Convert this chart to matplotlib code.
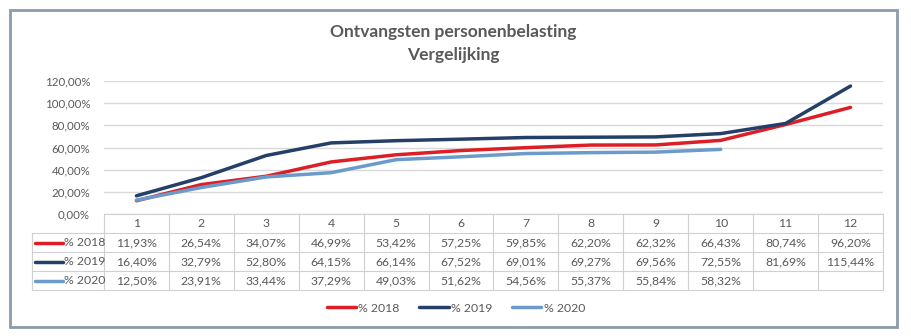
import matplotlib.pyplot as plt
from matplotlib.patches import Rectangle
from matplotlib.lines import Line2D
from matplotlib.transforms import blended_transform_factory

plt.rcParams['font.family'] = ['Lato', 'DejaVu Sans']

months = [1, 2, 3, 4, 5, 6, 7, 8, 9, 10, 11, 12]
series_names = ['% 2018', '% 2019', '% 2020']
pct_2018 = [11.93, 26.54, 34.07, 46.99, 53.42, 57.25, 59.85, 62.20, 62.32, 66.43, 80.74, 96.20]
pct_2019 = [16.40, 32.79, 52.80, 64.15, 66.14, 67.52, 69.01, 69.27, 69.56, 72.55, 81.69, 115.44]
pct_2020 = [12.50, 23.91, 33.44, 37.29, 49.03, 51.62, 54.56, 55.37, 55.84, 58.32, None, None]
yticks = [0, 20, 40, 60, 80, 100, 120]

colors = ['#DC1F26', '#243F68', '#6A9BCB']
txt = '#595959'
grid = '#D9D9D9'

W, H = 912, 336
fig = plt.figure(figsize=(W / 100, H / 100), dpi=100)


def fy(p):
    return 1 - p / H


def fx(p):
    return p / W


# outer frame
fig.patches.append(Rectangle((fx(10), fy(327)), fx(887), (327 - 10) / H,
                             transform=fig.transFigure, fill=False,
                             edgecolor='#8C9BAA', linewidth=2))

x0, x1, ytop, ybot = 104, 883, 81, 214
ax = fig.add_axes([fx(x0), fy(ybot), fx(x1 - x0), (ybot - ytop) / H])
ax.set_xlim(0.5, 12.5)
ax.set_ylim(0, 120)
for s in ax.spines.values():
    s.set_visible(False)
ax.set_yticks(yticks)
ax.set_yticklabels(['%d,00%%' % v for v in yticks])
ax.tick_params(axis='y', length=0, labelsize=8.3, labelcolor=txt, pad=10)
ax.set_xticks([])
ax.grid(axis='y', color=grid, linewidth=1)
ax.set_axisbelow(True)

all_series = [pct_2018, pct_2019, pct_2020]
for name, vals, c in zip(series_names, all_series, colors):
    xs = [m for m, v in zip(months, vals) if v is not None]
    ys = [v for v in vals if v is not None]
    ax.plot(xs, ys, color=c, linewidth=2.5, solid_capstyle='round', label=name)

fig.text(0.497, fy(32), 'Ontvangsten personenbelasting', ha='center', va='center',
         fontsize=12.5, fontweight='bold', color=txt)
fig.text(0.497, fy(55), 'Vergelijking', ha='center', va='center',
         fontsize=12.5, fontweight='bold', color=txt)

# data table
tr = blended_transform_factory(ax.transData, fig.transFigure)
row_lines = [214, 233, 252, 271, 290]
lc = '#D0D0D0'
for i, yp in enumerate(row_lines):
    xl = 32 if i > 0 else x0
    fig.add_artist(Line2D([fx(xl), fx(x1)], [fy(yp), fy(yp)], transform=fig.transFigure,
                          color=lc, linewidth=0.8))
fig.add_artist(Line2D([fx(32), fx(32)], [fy(233), fy(290)], transform=fig.transFigure,
                      color=lc, linewidth=0.8))
for b in [0.5 + k for k in range(13)]:
    fig.add_artist(Line2D([b, b], [fy(214), fy(290)], transform=tr, color=lc, linewidth=0.8))

for m in months:
    fig.text(m, fy(223.5), str(m), transform=tr, ha='center', va='center',
             fontsize=8.8, color=txt)
for r, (name, vals, c) in enumerate(zip(series_names, all_series, colors)):
    yc = fy((row_lines[r + 1] + row_lines[r + 2]) / 2)
    fig.add_artist(Line2D([fx(35), fx(63)], [yc, yc], transform=fig.transFigure,
                          color=c, linewidth=2.5, solid_capstyle='round'))
    fig.text(fx(64), yc, name, ha='left', va='center', fontsize=8.8, color=txt)
    for m, v in zip(months, vals):
        if v is None:
            continue
        fig.text(m, yc, ('%.2f%%' % v).replace('.', ','), transform=tr,
                 ha='center', va='center', fontsize=8.8, color=txt)

fig.legend(loc='center', bbox_to_anchor=(0.5, fy(308)), ncol=3, frameon=False,
           fontsize=8.8, labelcolor=txt, handlelength=2.4, handletextpad=0.2,
           columnspacing=1.6)

fig.savefig('out.png', dpi=100)
